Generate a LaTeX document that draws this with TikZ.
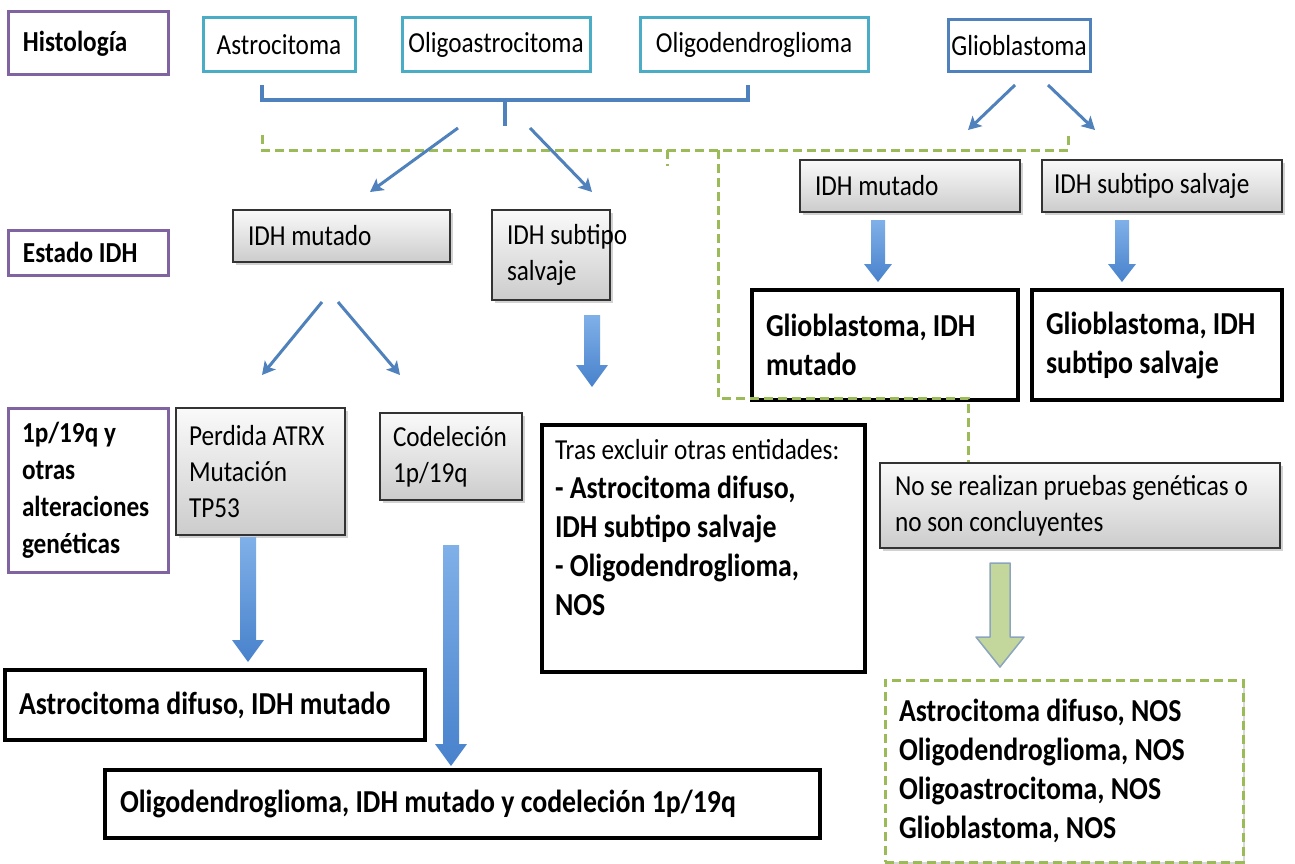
\documentclass[tikz,border=0pt]{standalone}
\usepackage{fontspec}
\setmainfont{Carlito}[FakeStretch=0.87]
\usetikzlibrary{arrows.meta,shadows}
\definecolor{cyanb}{RGB}{75,172,198}
\definecolor{blueb}{RGB}{79,129,189}
\definecolor{purp}{RGB}{128,100,162}
\definecolor{greenb}{RGB}{155,187,89}
\definecolor{blkT}{RGB}{128,176,232}
\definecolor{blkB}{RGB}{72,130,204}
\definecolor{lgreen}{RGB}{195,214,155}
\definecolor{gbord}{RGB}{140,165,190}
\newcommand\bx[7]{\node[#2, minimum width={(#5-#3)*1pt}, minimum height={(#6-#4)*1pt}] (#1) at ({(#3+#5)/2},{(#4+#6)/2}) {#7};}
\newcommand\tbx[8]{\node[#2, minimum width={(#5-#3)*1pt}, minimum height={(#6-#4)*1pt}, text width={(#5-#3-2*#7)*1pt}, inner xsep=#7pt, align=flush left] (#1) at ({(#3+#5)/2},{(#4+#6)/2}) {#8};}
% block arrow: x, y top, y tip, shaft half width, head half width, head length
\newcommand\barr[6]{\shade[top color=blkT, bottom color=blkB] ({#1-#4},#2) -- ({#1+#4},#2) -- ({#1+#4},{#3-#6}) -- ({#1+#5},{#3-#6}) -- (#1,#3) -- ({#1-#5},{#3-#6}) -- ({#1-#4},{#3-#6}) -- cycle;}
\begin{document}
\begin{tikzpicture}[x=1pt,y=-1pt,
  lab/.style={draw=purp, line width=3pt, font=\fontsize{29}{37}\selectfont\bfseries, inner ysep=0pt},
  histo/.style={draw=cyanb, line width=3pt, font=\fontsize{29}{34}\selectfont, align=center, inner sep=0pt},
  gbox/.style={draw=black!80, line width=1.5pt, top color=gray!4, bottom color=gray!40, drop shadow={shadow xshift=2.5pt,shadow yshift=-2.5pt,opacity=0.35}, font=\fontsize{29}{36}\selectfont, inner ysep=0pt},
  res/.style={draw=black, line width=3.5pt, fill=white, drop shadow={shadow xshift=2pt,shadow yshift=-2pt,opacity=0.3}, font=\fontsize{32}{39}\selectfont\bfseries, inner ysep=0pt},
  thinarr/.style={draw=blueb, line width=3pt, -{Stealth[length=13pt,width=14pt,inset=3pt]}},
  gdash/.style={draw=greenb, line width=3pt, dash pattern=on 9pt off 5pt},
  brk/.style={draw=blueb, line width=3.5pt}]
\useasboundingbox[fill=white] (0,0) rectangle (1295,864);
% label boxes
\tbx{hist}{lab}{8}{12}{168}{75}{15}{Histología}
\tbx{estado}{lab}{8}{230}{168}{275}{15}{Estado IDH}
\tbx{gen}{lab}{8}{408}{168}{572}{14}{1p/19q y\\otras\\alteraciones\\genéticas}
% histology boxes
\bx{astro}{histo}{203}{18}{355}{72}{Astrocitoma}
\bx{oligoa}{histo}{402}{18}{590}{72}{Oligoastrocitoma}
\bx{oligod}{histo}{640}{18}{868}{72}{Oligodendroglioma}
\bx{glio}{histo,draw=blueb}{948}{20}{1090}{72}{Glioblastoma}
% gray boxes
\tbx{idhm1}{gbox}{233}{210}{450}{262}{15}{IDH mutado}
\tbx{idhs1}{gbox}{492}{210}{610}{300}{15}{\mbox{IDH subtipo}\\salvaje}
\tbx{idhm2}{gbox}{800}{160}{1020}{212}{15}{IDH mutado}
\tbx{idhs2}{gbox}{1042}{160}{1282}{212}{12}{IDH subtipo salvaje}
\tbx{atrx}{gbox}{176}{408}{345}{535}{13}{Perdida ATRX\\Mutación\\TP53}
\tbx{codel}{gbox}{380}{413}{522}{500}{13}{Codeleción\\1p/19q}
\tbx{nose}{gbox}{880}{463}{1280}{548}{15}{No se realizan pruebas genéticas o\\no son concluyentes}
% result boxes
\tbx{gbm}{res}{752}{290}{1018}{400}{14}{Glioblastoma, IDH\\mutado}
\tbx{gbw}{res}{1032}{290}{1282}{400}{14}{Glioblastoma, IDH\\subtipo salvaje}
\tbx{tras}{res}{542}{425}{865}{672}{13}{{\mdseries\fontsize{29}{36}\selectfont Tras excluir otras entidades:}\\- Astrocitoma difuso,\\IDH subtipo salvaje\\- Oligodendroglioma,\\NOS\rule[-42pt]{0pt}{0pt}}
\tbx{astrod}{res}{5}{670}{425}{740}{14}{Astrocitoma difuso, IDH mutado}
\tbx{oligoc}{res}{105}{770}{820}{838}{15}{Oligodendroglioma, IDH mutado y codeleción 1p/19q}
\tbx{nos}{res,draw=greenb,line width=3pt,dash pattern=on 9pt off 5pt,drop shadow={opacity=0}}{885}{680}{1243}{862}{14}{Astrocitoma difuso, NOS\\Oligodendroglioma, NOS\\Oligoastrocitoma, NOS\\Glioblastoma, NOS}
% bracket
\coordinate (b1) at (262,85);
\coordinate (b2) at (262,100);
\coordinate (b3) at (748,100);
\coordinate (b4) at (748,85);
\coordinate (bm) at (505,100);
\coordinate (bt) at (505,126);
\draw[brk] (b1) -- (b2) -- (b3) -- (b4);
\draw[brk] (bm) -- (bt);
% green dashed bracket and path
\coordinate (g1) at (262,135);
\coordinate (g2) at (262,150);
\coordinate (g3) at (1068,150);
\coordinate (g4) at (1068,135);
\coordinate (gt1) at (667,150);
\coordinate (gt2) at (667,166);
\coordinate (gv1) at (718,150);
\coordinate (gv2) at (718,398);
\coordinate (gv3) at (968,398);
\draw[gdash] (g1) -- (g2) -- (g3) -- (g4);
\draw[gdash] (gt1) -- (gt2);
\draw[gdash] (gv1) -- (gv2) -- (gv3) -- (gv3 |- nose.north);
% thin arrows
\coordinate (a1s) at (458,128); \coordinate (a1e) at (370,192);
\coordinate (a2s) at (530,128); \coordinate (a2e) at (592,192);
\coordinate (a3s) at (1015,85); \coordinate (a3e) at (968,130);
\coordinate (a4s) at (1048,85); \coordinate (a4e) at (1095,130);
\coordinate (a5s) at (322,302); \coordinate (a5e) at (262,375);
\coordinate (a6s) at (338,302); \coordinate (a6e) at (400,375);
\draw[thinarr] (a1s) -- (a1e);
\draw[thinarr] (a2s) -- (a2e);
\draw[thinarr] (a3s) -- (a3e);
\draw[thinarr] (a4s) -- (a4e);
\draw[thinarr] (a5s) -- (a5e);
\draw[thinarr] (a6s) -- (a6e);
% block arrows
\barr{592}{315}{387}{8}{16}{22}
\barr{878}{220}{282}{7}{14}{18}
\barr{1122}{220}{282}{7}{14}{18}
\barr{248}{537}{662}{8}{16}{22}
\barr{451}{545}{766}{8}{16}{22}
\draw[draw=gbord, fill=lgreen, line width=1.5pt, line join=round] (990,563) -- (1010,563) -- (1010,637) -- (1024,637) -- (1000,667) -- (976,637) -- (990,637) -- cycle;
\end{tikzpicture}
\end{document}
